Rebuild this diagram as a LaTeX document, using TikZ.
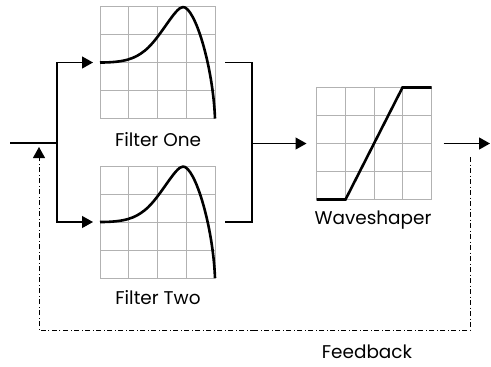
\documentclass[tikz,border=0pt]{standalone}
\usepackage{fontspec}
\setmainfont{Poppins}
\usetikzlibrary{arrows.meta,calc}

\begin{document}
\begin{tikzpicture}[x=1bp,y=-1bp,
  line width=1.2bp,
  chart node/.style={rectangle,minimum width=115bp,minimum height=112bp,inner sep=0pt,outer sep=0pt},
  label node/.style={anchor=base,inner sep=0pt,font=\fontsize{18.5}{21}\selectfont},
  grid line/.style={draw=black!30,line width=0.9bp},
  curve line/.style={line width=2.6bp,line join=round},
  arrow line/.style={-{Triangle[length=11bp,width=12bp]}},
  feedback line/.style={line width=0.9bp,dash pattern=on 5bp off 2.5bp on 1bp off 2.5bp}]

  \useasboundingbox (0,0) rectangle (491,366);

  \node[chart node] (f1) at (157.5,62.5) {};
  \node[chart node] (f2) at (157.5,222) {};
  \node[chart node] (ws) at (374,143.5) {};

  \node[label node] (f1label) at (158,146) {Filter One};
  \node[label node] (f2label) at (158,304) {Filter Two};
  \node[label node] (wslabel) at (373,224) {Waveshaper};
  \node[label node] (fblabel) at (367,358) {Feedback};

  % grids
  \foreach \b in {f1,f2,ws}{
    \foreach \t in {0.25,0.5,0.75}{
      \draw[grid line] ($(\b.north west)!\t!(\b.north east)$) -- ($(\b.south west)!\t!(\b.south east)$);
      \draw[grid line] ($(\b.north west)!\t!(\b.south west)$) -- ($(\b.north east)!\t!(\b.south east)$);
    }
    \draw[grid line] (\b.north west) rectangle (\b.south east);
  }

  % curves
  \foreach \b in {f1,f2}{
    \begin{scope}[shift={(\b.north west)}]
      \draw[curve line] (0,56) .. controls (25,56) and (35,52) .. (45,44)
        .. controls (60,32) and (75,0.5) .. (83,0.5)
        .. controls (95,0.5) and (113,60) .. (115,112);
    \end{scope}
  }
  \begin{scope}[shift={(ws.north west)}]
    \draw[curve line,line join=miter] (0,112) -- (29,112) -- (86,0) -- (115,0);
  \end{scope}

  % signal path
  \coordinate (in) at (10,143);
  \coordinate (split) at (57,143);
  \coordinate (join) at (252,143.5);
  \coordinate (out) at (490,143.5);

  \draw (in) -- (split);
  \draw[arrow line,shorten >=7bp] (split) |- (f1);
  \draw[arrow line,shorten >=7bp] (split) |- (f2);
  \draw[shorten <=10bp] (f1) -| (join);
  \draw[shorten <=10bp] (f2) -| (join);
  \draw[arrow line,shorten >=10bp] (join) -- (ws);
  \draw[arrow line,shorten <=12bp] (ws) -- (out);

  % feedback
  \coordinate (fbstart) at (470,157);
  \coordinate (fbbottom) at (255,330);
  \coordinate (fbend) at (39,147);
  \draw[feedback line] (fbstart) |- (fbbottom);
  \draw[feedback line,arrow line] (fbbottom) -| (fbend);
\end{tikzpicture}
\end{document}
